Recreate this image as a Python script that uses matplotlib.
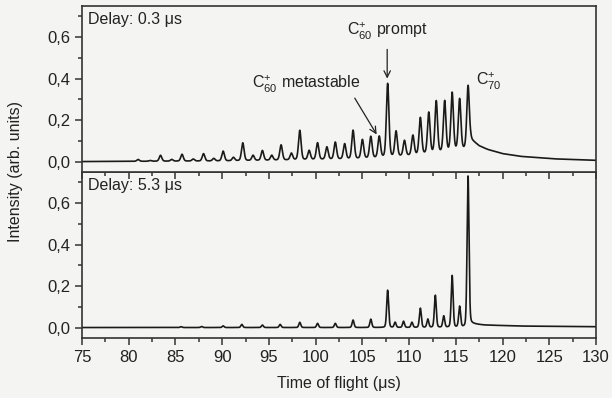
import numpy as np
import matplotlib
matplotlib.use("Agg")
import matplotlib.pyplot as plt
from matplotlib.ticker import MultipleLocator, FuncFormatter

plt.rcParams['font.family'] = ['Liberation Sans', 'DejaVu Sans']
plt.rcParams['mathtext.fontset'] = 'custom'
plt.rcParams['mathtext.rm'] = 'Liberation Sans'
plt.rcParams['mathtext.it'] = 'Liberation Sans:italic'

# delay 0.3 us: peak centres (us) and peak heights (arb. units)
top_pos = [81.0, 82.3, 83.4, 84.6, 85.7, 86.9, 88.0, 89.1, 90.1, 91.2,
           92.2, 93.3, 94.3, 95.3, 96.3, 97.4, 98.3, 99.3, 100.2, 101.2,
           102.1, 103.1, 104.0, 105.0, 105.9, 106.8, 107.7, 108.6, 109.5,
           110.4, 111.2, 112.1, 112.9, 113.8, 114.6, 115.4, 116.3]
top_hgt = [0.010, 0.005, 0.030, 0.010, 0.035, 0.012, 0.038, 0.015, 0.050, 0.020,
           0.090, 0.030, 0.053, 0.030, 0.080, 0.040, 0.150, 0.053, 0.090, 0.070,
           0.093, 0.085, 0.150, 0.105, 0.120, 0.120, 0.375, 0.145, 0.100,
           0.125, 0.210, 0.235, 0.290, 0.290, 0.330, 0.300, 0.365]
# slow background / tail under the delay 0.3 us trace
top_bg_t = [75.0, 90.0, 98.0, 104.0, 107.0, 110.0, 114.0, 116.2, 116.6, 117.5, 118.4, 120.0, 121.9, 125.5, 130.0]
top_bg_v = [0.0, 0.003, 0.008, 0.012, 0.018, 0.028, 0.045, 0.060, 0.105, 0.075, 0.058, 0.038, 0.025, 0.013, 0.006]

# delay 5.3 us
bot_pos = [85.6, 87.8, 90.1, 92.1, 94.3, 96.2, 98.3, 100.2, 102.1, 104.0, 105.9,
           107.7, 108.5, 109.4, 110.3, 111.2, 112.0, 112.8, 113.7, 114.6, 115.4, 116.3]
bot_hgt = [0.004, 0.005, 0.008, 0.015, 0.012, 0.015, 0.025, 0.020, 0.020, 0.036, 0.040,
           0.180, 0.025, 0.030, 0.025, 0.093, 0.040, 0.155, 0.055, 0.250, 0.100, 0.730]
bot_bg_t = [75.0, 116.0, 116.6, 118.0, 122.0, 130.0]
bot_bg_v = [0.0, 0.0, 0.018, 0.012, 0.007, 0.004]


def trace(t, pos, hgt, bg_t, bg_v, sig):
    bg = np.interp(t, bg_t, bg_v)
    y = bg.copy()
    for p, h in zip(pos, hgt):
        a = max(h - np.interp(p, bg_t, bg_v), 0)
        g = np.exp(-0.5 * ((t - p) / sig) ** 2)
        lor = 1.0 / (1.0 + ((t - p) / sig) ** 2)
        y += a * (0.75 * g + 0.25 * lor)
    return y


t = np.linspace(75, 130, 6000)
y_top = trace(t, top_pos, top_hgt, top_bg_t, top_bg_v, 0.14)
y_bot = trace(t, bot_pos, bot_hgt, bot_bg_t, bot_bg_v, 0.105)

bgcol = '#f4f4f2'
fig = plt.figure(figsize=(6.12, 3.98), dpi=100, facecolor=bgcol)
ax1 = fig.add_axes([0.134, 0.568, 0.840, 0.417])
ax2 = fig.add_axes([0.134, 0.151, 0.840, 0.417])
ax1.set_zorder(3)

comma = FuncFormatter(lambda v, pos: f"{v:.1f}".replace('.', ','))
for ax, y, lab in [(ax1, y_top, 'Delay: 0.3 μs'), (ax2, y_bot, 'Delay: 5.3 μs')]:
    ax.set_facecolor(bgcol)
    ax.plot(t, y, color='#1a1a1a', lw=1.2)
    ax.set_xlim(75, 130)
    ax.set_ylim(-0.05, 0.75)
    ax.xaxis.set_major_locator(MultipleLocator(5))
    ax.xaxis.set_minor_locator(MultipleLocator(2.5))
    ax.yaxis.set_major_locator(MultipleLocator(0.2))
    ax.yaxis.set_minor_locator(MultipleLocator(0.1))
    ax.yaxis.set_major_formatter(comma)
    ax.tick_params(which='major', direction='out', length=5, width=1.1, labelsize=12,
                   colors='#333333', labelcolor='#222222')
    ax.tick_params(which='minor', direction='out', length=3, width=1.1, colors='#333333')
    ax.tick_params(top=False, right=False)
    for s in ax.spines.values():
        s.set_linewidth(1.2)
        s.set_color('#333333')
    ax.text(0.011, 0.965, lab, transform=ax.transAxes, ha='left', va='top', fontsize=11.5, color='#222222')

ax1.tick_params(labelbottom=False)
ax2.tick_params(axis='x', pad=4)

ax1.annotate(r'C$_{60}^{+}$ metastable', xy=(106.6, 0.125), xytext=(93.2, 0.37),
             fontsize=11.5, color='#222222', ha='left', va='center',
             arrowprops=dict(arrowstyle='->', color='#222222', lw=0.9,
                             shrinkA=0, shrinkB=1, relpos=(0.93, 0.0)))
ax1.annotate(r'C$_{60}^{+}$ prompt', xy=(107.65, 0.40), xytext=(107.65, 0.625),
             fontsize=11.5, color='#222222', ha='center', va='center',
             arrowprops=dict(arrowstyle='->', color='#222222', lw=0.9,
                             relpos=(0.5, 0.0), shrinkA=3, shrinkB=0))
ax1.text(117.1, 0.385, r'C$_{70}^{+}$', fontsize=11.5, color='#222222', ha='left', va='center')

fig.text(0.025, 0.568, 'Intensity (arb. units)', rotation=90, ha='center', va='center',
         fontsize=11.5, color='#222222')
fig.text(0.554, 0.037, 'Time of flight (μs)', ha='center', va='center', fontsize=11.5, color='#222222')

fig.savefig('out.png', dpi=100, facecolor=bgcol)
